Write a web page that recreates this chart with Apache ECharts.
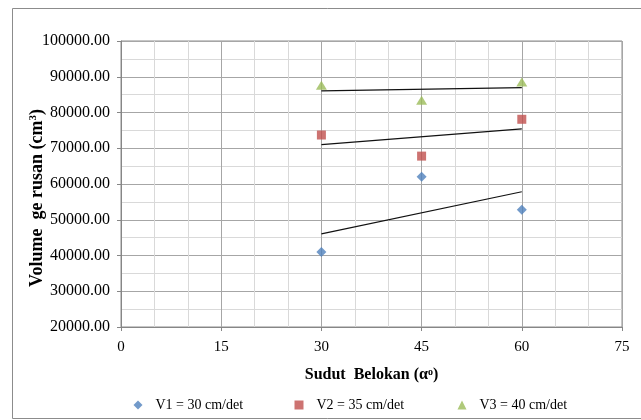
<!DOCTYPE html>
<html>
<head>
<meta charset="utf-8">
<script src="https://cdn.jsdelivr.net/npm/echarts@6/dist/echarts.min.js"></script>
<style>
  html, body { margin: 0; padding: 0; background: #fff; }
  #chart { width: 641px; height: 420px; }
</style>
</head>
<body>
<div id="chart"></div>
<script>
// Bend angle (degrees) and measured scour volume (cm^3) for each flow velocity
const angles = [30, 45, 60];
const v1 = [41000, 62000, 52800];
const v2 = [73700, 67800, 78100];
const v3 = [87600, 83400, 88500];
const seriesNames = ['V1 = 30 cm/det', 'V2 = 35 cm/det', 'V3 = 40 cm/det'];
const xTicks = [0, 15, 30, 45, 60, 75];
const yTicks = [20000, 30000, 40000, 50000, 60000, 70000, 80000, 90000, 100000];

// Least-squares linear trend across the measured angle range
function trend(xs, ys) {
  const n = xs.length;
  const mx = xs.reduce((a, b) => a + b, 0) / n;
  const my = ys.reduce((a, b) => a + b, 0) / n;
  let sxy = 0, sxx = 0;
  for (let i = 0; i < n; i++) {
    sxy += (xs[i] - mx) * (ys[i] - my);
    sxx += (xs[i] - mx) * (xs[i] - mx);
  }
  const b = sxy / sxx, a = my - b * mx;
  const x0 = Math.min(...xs), x1 = Math.max(...xs);
  return [[x0, a + b * x0], [x1, a + b * x1]];
}

const pairs = ys => angles.map((x, i) => [x, ys[i]]);
const FONT = 'Liberation Serif';
const colors = ['#4F81BD', '#C0504D', '#9BBB59'];
const symbols = ['diamond', 'rect', 'triangle'];
const sizes = [[10, 10], [9, 9], [11, 9]];
const dataSets = [v1, v2, v3];

const scatterSeries = dataSets.map((d, i) => ({
  name: seriesNames[i],
  type: 'scatter',
  data: pairs(d),
  symbol: symbols[i],
  symbolSize: sizes[i],
  itemStyle: { color: colors[i] },
  z: 5
}));

const trendSeries = dataSets.map((d, i) => ({
  name: 'trend' + (i + 1),
  type: 'line',
  data: trend(angles, d),
  symbol: 'none',
  silent: true,
  lineStyle: { color: '#111', width: 1.2 },
  z: 4
}));

const legendIconCenters = [133, 294, 457];
const legends = seriesNames.map((n, i) => ({
  data: [{ name: n, icon: symbols[i] }],
  left: legendIconCenters[i] - 4.5,
  top: 393,
  itemWidth: 9,
  itemHeight: 9,
  textStyle: { fontFamily: FONT, fontSize: 14, color: '#000', padding: [0, 0, 0, 8] }
}));

const chart = echarts.init(document.getElementById('chart'), null, { renderer: 'canvas' });
chart.setOption({
  animation: false,
  backgroundColor: '#fff',
  graphic: [{
    type: 'rect',
    shape: { x: 12.5, y: 8.5, width: 700, height: 410 },
    style: { fill: 'none', stroke: '#8c8c8c', lineWidth: 1 },
    silent: true
  }],
  legend: legends,
  grid: {
    left: 121, top: 41, width: 501, height: 286,
    show: true, borderColor: '#8c8c8c', borderWidth: 1, backgroundColor: 'transparent'
  },
  xAxis: {
    type: 'value',
    min: xTicks[0], max: xTicks[xTicks.length - 1], interval: 15,
    name: '{t|Sudut  Belokan (α}{s|o}{t|)}',
    nameLocation: 'middle',
    nameGap: 40,
    nameMoveOverlap: false,
    nameTextStyle: {
      rich: {
        t: { fontFamily: FONT, fontSize: 16, fontWeight: 'bold', color: '#000' },
        s: { fontFamily: FONT, fontSize: 10, fontWeight: 'bold', color: '#000', verticalAlign: 'top', padding: [0, 0, 6, 0] }
      }
    },
    axisLine: { show: true, lineStyle: { color: '#868686' } },
    axisTick: { show: true, length: 4, lineStyle: { color: '#868686' } },
    axisLabel: { fontFamily: FONT, fontSize: 15, color: '#000', margin: 13 },
    splitLine: { show: true, lineStyle: { color: '#a6a6a6' } },
    minorTick: { show: false, splitNumber: 3 },
    minorSplitLine: { show: true, lineStyle: { color: '#d9d9d9' } }
  },
  yAxis: {
    type: 'value',
    min: yTicks[0], max: yTicks[yTicks.length - 1], interval: 10000,
    name: '{t|Volume  ge rusan (cm}{s|3}{t|)}',
    nameLocation: 'middle',
    nameGap: 75,
    nameMoveOverlap: false,
    nameTextStyle: {
      padding: [0, 28, 0, 0],
      rich: {
        t: { fontFamily: FONT, fontSize: 18, fontWeight: 'bold', color: '#000' },
        s: { fontFamily: FONT, fontSize: 11, fontWeight: 'bold', color: '#000', verticalAlign: 'top', padding: [0, 0, 7, 0] }
      }
    },
    axisLine: { show: true, lineStyle: { color: '#868686' } },
    axisTick: { show: true, length: 4, lineStyle: { color: '#868686' } },
    axisLabel: { fontFamily: FONT, fontSize: 16, color: '#000', margin: 11, formatter: v => v.toFixed(2) },
    splitLine: { show: true, lineStyle: { color: '#a6a6a6' } },
    minorTick: { show: false, splitNumber: 2 },
    minorSplitLine: { show: true, lineStyle: { color: '#d9d9d9' } }
  },
  series: [...trendSeries, ...scatterSeries]
});
</script>
</body>
</html>
